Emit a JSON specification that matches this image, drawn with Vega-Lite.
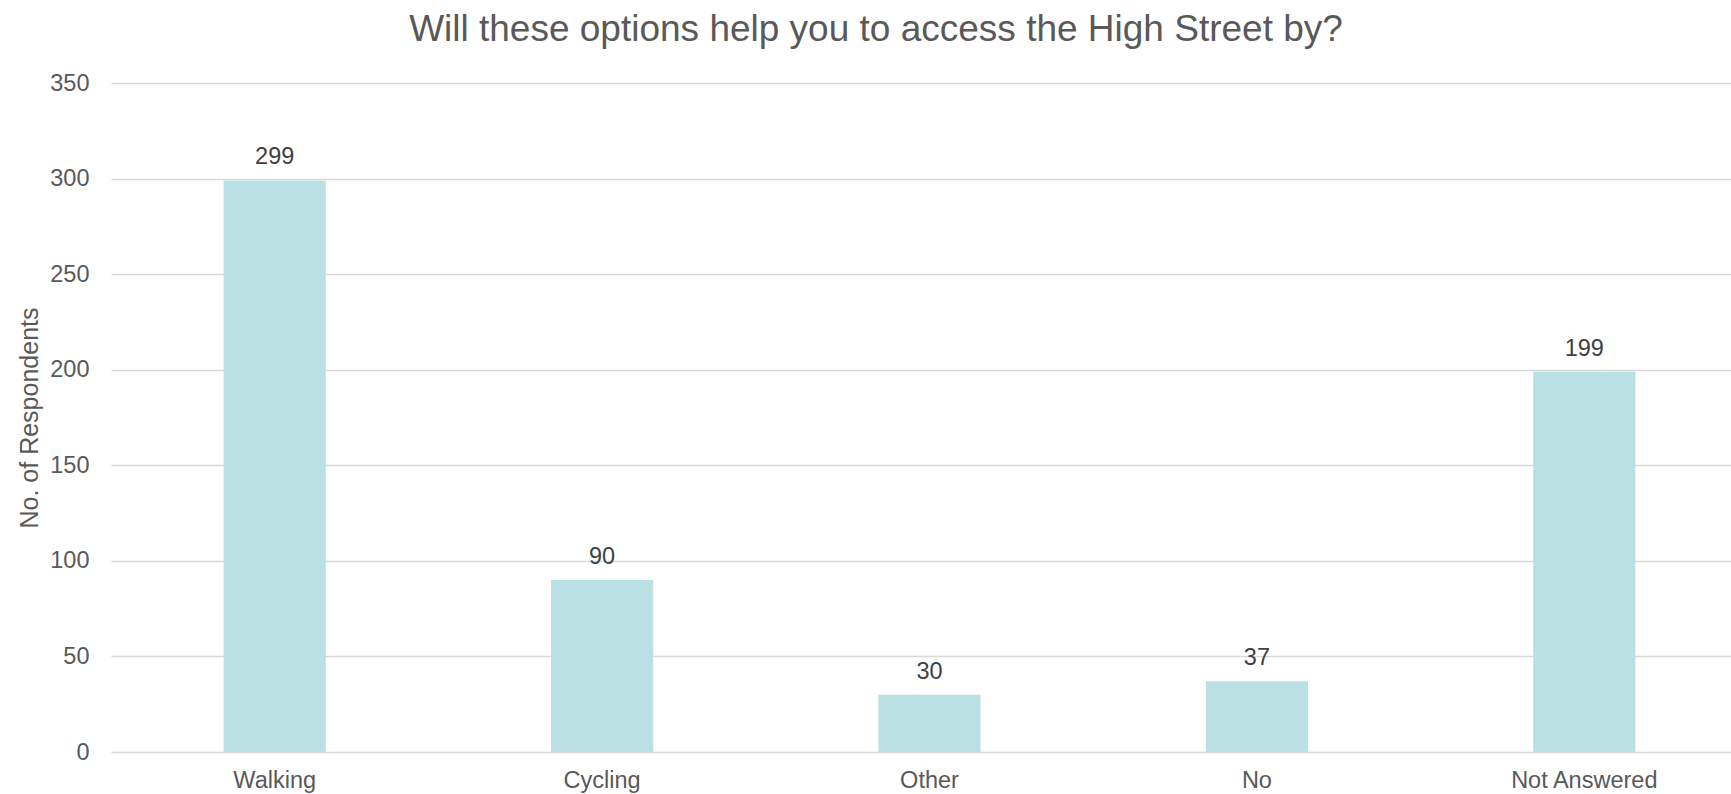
{
  "$schema": "https://vega.github.io/schema/vega-lite/v6.json",
  "width": 1620,
  "height": 669,
  "autosize": {"type": "none"},
  "padding": {"left": 111, "top": 83, "right": 0, "bottom": 42},
  "background": "#ffffff",
  "title": {
    "text": "Will these options  help you to access the High Street by?",
    "anchor": "middle",
    "frame": "group",
    "dx": -45,
    "offset": -7,
    "baseline": "alphabetic",
    "font": "Liberation Sans",
    "fontSize": 37,
    "fontWeight": "normal",
    "color": "#595959"
  },
  "data": {
    "values": [
      {"option": "Walking", "count": 299},
      {"option": "Cycling", "count": 90},
      {"option": "Other", "count": 30},
      {"option": "No", "count": 37},
      {"option": "Not Answered", "count": 199}
    ]
  },
  "encoding": {
    "x": {
      "field": "option",
      "type": "nominal",
      "sort": null,
      "scale": {"range": [0, 1637], "paddingInner": 0.688, "paddingOuter": 0.344},
      "axis": {
        "title": null,
        "labelAngle": 0,
        "labelFont": "Liberation Sans",
        "labelFontSize": 23.5,
        "labelColor": "#595959",
        "labelPadding": 16,
        "ticks": false,
        "domain": false,
        "grid": false
      }
    },
    "y": {
      "field": "count",
      "type": "quantitative",
      "scale": {"domain": [0, 350], "nice": false},
      "axis": {
        "title": "No. of Respondents",
        "values": [0, 50, 100, 150, 200, 250, 300, 350],
        "titleFont": "Liberation Sans",
        "titleFontSize": 25,
        "titleFontWeight": "normal",
        "titleColor": "#595959",
        "titleAngle": 270,
        "titleBaseline": "alphabetic",
        "titleAlign": "center",
        "titleX": -74,
        "titleY": 334.5,
        "labelFont": "Liberation Sans",
        "labelFontSize": 23.5,
        "labelColor": "#595959",
        "labelPadding": 22,
        "ticks": false,
        "tickSize": 0,
        "domain": false,
        "grid": true,
        "gridColor": "#D9D9D9",
        "gridWidth": 1.6
      }
    }
  },
  "layer": [
    {
      "mark": {"type": "bar", "color": "#BBE0E3"}
    },
    {
      "mark": {
        "type": "text",
        "baseline": "alphabetic",
        "align": "center",
        "dy": -16,
        "font": "Liberation Sans",
        "fontSize": 23.5,
        "color": "#404040"
      },
      "encoding": {"text": {"field": "count", "type": "quantitative"}}
    }
  ],
  "config": {"view": {"stroke": null}}
}
